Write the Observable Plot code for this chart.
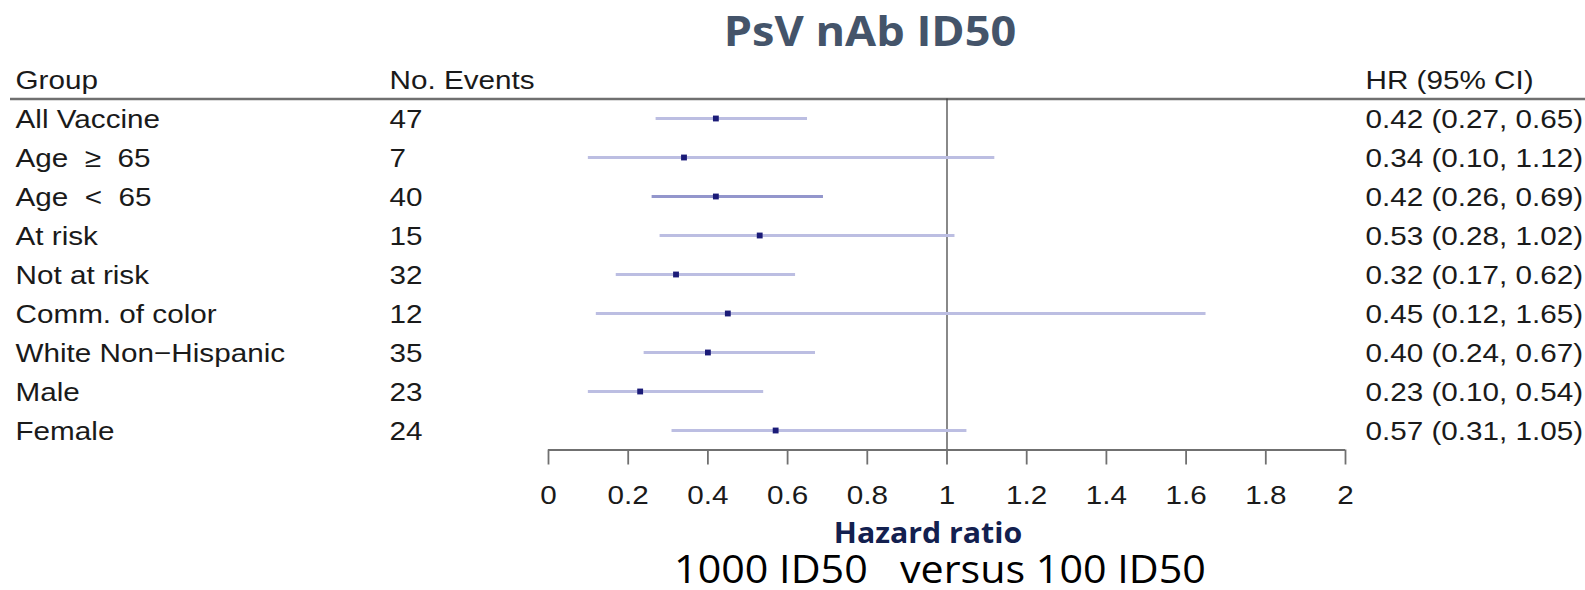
<!DOCTYPE html>
<html><head><meta charset="utf-8">
<script src="https://cdn.jsdelivr.net/npm/d3@7"></script>
<script src="https://cdn.jsdelivr.net/npm/@observablehq/plot@0.6"></script>
<style>
html,body{margin:0;padding:0;background:#fff;}
#wrap{width:1585px;height:590px;overflow:hidden;background:#fff;}
.band{position:relative;width:1585px;}
#title{height:58px;}
#caption{height:70px;}
.t{position:absolute;white-space:pre;line-height:1;font-family:"Open Sans","Noto Sans",sans-serif;}
#chart svg{display:block;}
svg text{white-space:pre;}
</style></head><body>
<div id="wrap">
<div class="band" id="title"><span class="t" id="ttl"></span></div>
<div id="chart"></div>
<div class="band" id="caption"><span class="t" id="xl"></span><span class="t" id="sub"></span></div>
</div>
<script>
const titleText = "PsV nAb ID50";
const axisTitle = "Hazard ratio";
const subText = "1000 ID50   versus 100 ID50";
const headers = ["Group", "No. Events", "HR (95% CI)"];
const groups = ["All Vaccine", "Age  \u2265  65", "Age  <  65", "At risk", "Not at risk", "Comm. of color", "White Non\u2212Hispanic", "Male", "Female"];
const events = [47, 7, 40, 15, 32, 12, 35, 23, 24];
const hr = [0.42, 0.34, 0.42, 0.53, 0.32, 0.45, 0.40, 0.23, 0.57];
const lo = [0.27, 0.10, 0.26, 0.28, 0.17, 0.12, 0.24, 0.10, 0.31];
const hi = [0.65, 1.12, 0.69, 1.02, 0.62, 1.65, 0.67, 0.54, 1.05];
const xTicks = [0, 0.2, 0.4, 0.6, 0.8, 1, 1.2, 1.4, 1.6, 1.8, 2];
const xTickLabels = ["0", "0.2", "0.4", "0.6", "0.8", "1", "1.2", "1.4", "1.6", "1.8", "2"];
const refValue = 1;

const rows = groups.map((g, i) => ({
  i, group: g, events: String(events[i]), hr: hr[i], lo: lo[i], hi: hi[i],
  label: `${hr[i].toFixed(2)} (${lo[i].toFixed(2)}, ${hi[i].toFixed(2)})`
}));

const textStyle = {fill: "#1a1a1a", dy: 1};

const chart = Plot.plot({
  width: 1585, height: 462,
  marginLeft: 10, marginRight: 0, marginTop: 40.5, marginBottom: 70.5,
  style: {fontFamily: "'Liberation Sans', Arial, sans-serif", fontSize: "26.5px", color: "#1a1a1a", background: "#fff", overflow: "visible"},
  x: {domain: [xTicks[0], xTicks[xTicks.length - 1]], range: [548, 1345]},
  y: {domain: [-1, groups.length - 1], range: [21, 372], axis: null},
  marks: [
    Plot.ruleY([-0.5], {stroke: "#707070", strokeWidth: 2.5}),
    Plot.ruleX([refValue], {stroke: "#3a3a3a", strokeWidth: 1.2}),
    Plot.ruleY(rows, {y: "i", x1: "lo", x2: "hi", stroke: d => d.i === 2 ? "#9396cc" : "#bcbee2", strokeWidth: 3}),
    Plot.dot(rows, {x: "hr", y: "i", symbol: "square", r: 3.3, fill: "#1b1b78", stroke: "none"}),
    Plot.text([headers[0]], {y: () => -1, text: d => d, frameAnchor: "left", textAnchor: "start", dx: 5, ...textStyle}),
    Plot.text([headers[1]], {y: () => -1, text: d => d, frameAnchor: "left", textAnchor: "start", dx: 379, ...textStyle}),
    Plot.text([headers[2]], {y: () => -1, text: d => d, frameAnchor: "right", textAnchor: "start", dx: -220, ...textStyle}),
    Plot.text(rows, {y: "i", text: "group", frameAnchor: "left", textAnchor: "start", dx: 5, ...textStyle}),
    Plot.text(rows, {y: "i", text: "events", frameAnchor: "left", textAnchor: "start", dx: 379, ...textStyle}),
    Plot.text(rows, {y: "i", text: "label", frameAnchor: "right", textAnchor: "start", dx: -220, ...textStyle}),
    Plot.ruleY([groups.length - 0.5], {x1: xTicks[0], x2: xTicks[xTicks.length - 1], stroke: "#707070", strokeWidth: 1.8}),
    Plot.axisX(xTicks, {anchor: "bottom", tickSize: 15, tickPadding: 20, tickFormat: d => xTickLabels[xTicks.indexOf(d)], stroke: "#707070", strokeWidth: 1.8, label: null})
  ]
});
chart.querySelectorAll("text").forEach(t => {
  const tr = t.getAttribute("transform") || "";
  t.setAttribute("transform", tr + " scale(1.12,1)");
});
document.getElementById("chart").appendChild(chart);

function place(id, text, opts) {
  const el = document.getElementById(id);
  el.textContent = text;
  Object.assign(el.style, opts);
}
place("ttl", titleText, {left: "870px", top: "9.6px", fontSize: "41px", fontWeight: "700", color: "#44546a", transform: "translateX(-50%) scaleX(1.1)"});
place("xl", axisTitle, {left: "928px", top: "-2px", fontSize: "29.4px", fontWeight: "700", color: "#13204f", transform: "translateX(-50%) scaleX(1.03)"});
place("sub", subText, {left: "940px", top: "29.8px", fontSize: "37.5px", fontWeight: "400", color: "#000", transform: "translateX(-50%) scaleX(1.1)"});
</script>
</body></html>
